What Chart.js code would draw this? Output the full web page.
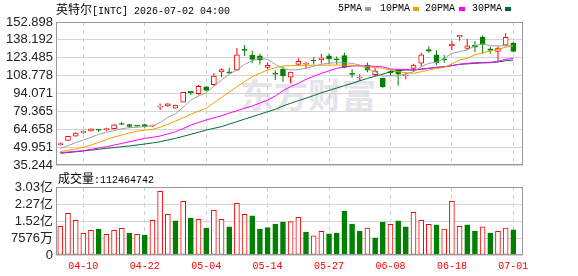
<!DOCTYPE html>
<html>
<head>
<meta charset="utf-8">
<script src="https://cdn.jsdelivr.net/npm/chart.js@4.4.1/dist/chart.umd.min.js"></script>
<style>
  body { margin: 0; background: #fff; }
  #wrap { position: relative; width: 578px; height: 276px; overflow: hidden; }
  canvas { position: absolute; left: 0; z-index: 1; }
  .txt { position: absolute; z-index: 2; font-family: "Liberation Mono", monospace; font-size: 10px; line-height: 12px; color: #000; white-space: nowrap; }
  .cjk { font-family: "Noto Sans CJK SC"; font-size: 12px; }
  .sw { position: absolute; z-index: 2; width: 6px; height: 4px; }
  #mark { position: absolute; z-index: 0; left: 240px; top: 76px; font-family: "Noto Sans CJK SC"; font-weight: bold; font-size: 34px; line-height: 36px; color: #e4e4ea; white-space: nowrap; }
</style>
</head>
<body>
<div id="wrap">
  <div id="mark">东方财富</div>
  <div class="txt" style="left:56px;top:3px"><span class="cjk">英特尔</span>[INTC] 2026-07-02 04:00</div>
  <div class="txt" style="left:338px;top:3px">5PMA</div>
  <div class="sw" style="left:365px;top:7px;background:#a0a0a0"></div>
  <div class="txt" style="left:380px;top:3px">10PMA</div>
  <div class="sw" style="left:413px;top:7px;background:#f2a000"></div>
  <div class="txt" style="left:425px;top:3px">20PMA</div>
  <div class="sw" style="left:459px;top:7px;background:#ff00ff"></div>
  <div class="txt" style="left:472px;top:3px">30PMA</div>
  <div class="sw" style="left:505px;top:7px;background:#006a33"></div>
  <div class="txt" style="left:58px;top:172px"><span class="cjk">成交量</span>:112464742</div>
  <canvas id="price" width="578" height="176" style="top:0"></canvas>
  <canvas id="vol" width="578" height="100" style="top:176px"></canvas>
</div>
<script>
const dates = ['04-07','04-08','04-09','04-10','04-13','04-14','04-15','04-16','04-17','04-20',
  '04-21','04-22','04-23','04-24','04-27','04-28','04-29','04-30','05-01','05-04',
  '05-05','05-06','05-07','05-08','05-11','05-12','05-13','05-14','05-15','05-18',
  '05-19','05-20','05-21','05-22','05-26','05-27','05-28','05-29','06-01','06-02',
  '06-03','06-04','06-05','06-08','06-09','06-10','06-11','06-12','06-15','06-16',
  '06-17','06-18','06-22','06-23','06-24','06-25','06-26','06-29','06-30','07-01'];

const opens = [52.0,55.5,59.0,62.1,63.2,64.6,64.3,65.2,69.4,68.4,
  67.6,68.4,67.2,82.8,84.0,82.0,87.0,95.8,94.0,99.6,
  101.3,111.8,112.0,113.2,130.5,125.5,125.0,115.6,110.5,114.0,
  107.6,118.0,118.3,121.4,121.8,125.0,122.6,125.3,110.6,106.8,
  117.5,109.6,106.5,111.8,113.3,108.5,114.7,119.0,130.3,125.8,
  122.6,133.2,140.6,131.2,133.7,140.5,130.8,128.6,133.8,135.5];
const highs = [54.0,59.2,62.2,63.8,65.3,64.8,65.9,69.0,70.7,69.2,
  67.8,69.2,68.4,85.8,86.3,84.8,95.3,96.2,101.0,100.0,
  111.0,114.6,115.2,131.5,134.0,129.3,126.8,119.5,113.0,116.0,
  112.0,123.0,120.2,124.0,126.6,127.0,124.5,127.8,114.0,110.0,
  119.5,115.0,106.8,114.0,114.0,111.5,118.5,127.5,133.0,129.7,
  125.8,137.0,142.1,139.0,137.0,141.8,132.6,133.0,143.6,136.5];
const lows = [51.0,55.0,58.5,61.0,62.8,62.3,63.0,64.8,68.3,65.5,
  67.0,65.9,66.3,80.5,83.0,81.8,86.8,92.8,93.0,96.0,
  100.5,107.4,110.5,112.5,125.0,119.0,117.8,114.0,105.2,103.8,
  102.5,116.8,114.6,118.0,118.5,118.4,117.8,114.8,107.0,104.5,
  111.5,108.5,98.8,108.5,100.5,105.8,112.0,116.0,127.6,117.3,
  119.4,129.7,137.5,129.8,128.0,126.8,126.8,120.8,132.8,128.0];
const closes = [52.6,58.8,61.6,62.7,65.0,64.0,64.8,68.3,68.6,66.9,
  67.2,67.0,67.8,83.5,85.5,84.5,95.1,94.6,100.0,96.6,
  108.5,113.8,110.7,125.8,129.5,122.2,121.7,117.2,109.9,108.8,
  111.6,120.5,119.2,120.8,123.3,122.5,121.8,115.6,109.8,107.6,
  113.2,112.5,99.5,111.2,110.0,109.3,117.5,125.8,129.0,119.3,
  121.8,134.8,142.0,133.3,132.2,134.5,129.5,131.4,140.3,128.7];

const ma5 = [48.9,51.1,53.6,55.8,58.0,60.5,62.1,63.5,65.1,66.0,
  66.3,66.8,67.3,70.2,74.5,77.4,82.7,88.7,92.0,94.7,
  100.0,105.2,110.0,113.5,118.0,121.0,123.3,122.0,118.0,114.5,
  113.5,113.6,114.8,116.5,118.1,119.0,119.5,119.3,118.9,117.5,
  114.5,112.0,108.3,108.6,108.6,110.1,112.0,116.1,118.9,119.7,
  123.0,127.1,128.5,129.9,133.4,134.8,133.4,133.2,133.4,133.2];
const ma10 = [46.2,47.3,48.4,49.8,51.7,53.9,56.1,58.3,59.9,61.6,
  63.0,64.0,64.6,66.3,68.7,71.4,74.0,77.0,79.5,81.9,
  86.4,90.9,95.3,99.7,103.8,107.9,110.7,113.4,115.3,116.7,
  117.0,117.2,117.3,117.3,117.3,117.4,117.5,117.4,117.3,116.7,
  116.1,115.5,114.8,113.4,112.0,111.2,110.6,112.0,113.4,114.5,
  115.6,118.4,121.6,123.0,125.8,127.6,129.0,130.4,132.1,133.2];
const ma20 = [45.4,45.9,46.5,47.0,48.1,49.2,50.3,51.6,53.0,54.4,
  55.8,57.2,58.0,59.1,60.8,62.6,65.2,68.0,70.2,72.3,
  74.0,75.8,77.9,79.9,81.9,83.8,86.2,88.7,92.0,96.4,
  99.7,102.4,105.7,108.2,110.6,112.7,114.8,115.8,116.7,116.8,
  116.7,116.4,116.0,114.2,113.9,113.9,113.4,113.9,114.8,115.6,
  116.1,117.0,118.1,118.9,119.4,119.7,119.7,120.6,122.2,123.0];
const ma30 = [44.9,45.5,46.1,46.8,47.5,48.2,48.9,49.6,50.3,50.9,
  51.7,52.5,53.4,54.4,55.8,57.2,58.8,60.5,62.2,64.0,
  65.4,66.8,68.9,70.9,73.0,75.0,77.0,79.1,81.0,83.8,
  86.0,88.2,90.2,92.4,94.7,96.6,98.6,100.5,102.4,104.5,
  106.5,108.3,110.0,112.0,112.8,113.4,113.4,114.2,114.8,115.6,
  116.1,117.0,118.1,118.4,118.9,119.2,119.4,120.0,121.0,121.6];

// volume in millions of shares
const volumes = [128,186,155,97,110,116,92,110,119,98,
  92,89,155,284,181,152,239,165,159,120,
  199,159,125,230,181,174,116,122,138,147,
  149,168,102,85,106,94,98,196,138,107,
  120,76,147,137,152,125,190,155,137,134,
  116,239,128,134,107,125,98,106,120,112.464742];

const priceTicks = ['35.244','49.951','64.658','79.365','94.071','108.778','123.485','138.192','152.898'];
const volTicks = ['0','7576万','1.52亿','2.27亿','3.03亿'];
const volMax = 303.03;

const red = '#ff0000';
const green = '#008000';
const candleUp = closes.map((c, i) => c >= opens[i]);
const volUp = closes.map((c, i) => i === 0 || c >= closes[i - 1]);

const pts = arr => arr.map((v, i) => ({ x: i, y: v }));

const frame = {
  id: 'frame',
  afterDraw(chart) {
    const { ctx, chartArea: a } = chart;
    ctx.save();
    ctx.strokeStyle = '#999';
    ctx.lineWidth = 1;
    ctx.strokeRect(a.left + 0.5, a.top + 0.5, a.right - a.left - 1, a.bottom - a.top - 1);
    ctx.restore();
  }
};

const xScale = showLabels => ({
  type: 'linear',
  offset: false,
  min: -0.56,
  max: 60.26,
  afterBuildTicks: s => {
    s.ticks = dates.map((d, i) => ({ value: i })).filter(t => (t.value - 3) % 8 === 0);
  },
  grid: { color: '#cfcfcf', drawTicks: false, offset: false },
  border: { display: false, dash: [4, 4] },
  ticks: {
    display: showLabels,
    autoSkip: false,
    maxRotation: 0,
    padding: 5,
    color: red,
    font: { family: 'Liberation Mono', size: 10 },
    callback: v => dates[v]
  },
  afterFit: s => { s.height = showLabels ? 21 : 0; }
});

const yFont = { family: "'Liberation Sans', 'Noto Sans CJK SC'", size: 13 };

const line = (data, color) => ({
  type: 'line',
  data: pts(data),
  borderColor: color,
  borderWidth: 1,
  pointRadius: 0,
  tension: 0,
  order: 0
});

new Chart(document.getElementById('price'), {
  type: 'bar',
  data: {
    datasets: [
      line(ma5, '#a0a0a0'),
      line(ma10, '#f2a000'),
      line(ma20, '#ff00ff'),
      line(ma30, '#006a33'),
      {
        data: opens.map((o, i) => ({ x: i, y: [o, closes[i]] })),
        backgroundColor: candleUp.map(u => u ? '#fff' : green),
        borderColor: candleUp.map(u => u ? red : green),
        borderWidth: 1,
        borderSkipped: false,
        barThickness: 5,
        minBarLength: 1,
        grouped: false,
        order: 1
      },
      {
        data: lows.map((l, i) => ({ x: i, y: [l, highs[i]] })),
        backgroundColor: candleUp.map(u => u ? red : green),
        barThickness: 1,
        inflateAmount: 0,
        grouped: false,
        order: 2
      }
    ]
  },
  options: {
    responsive: false,
    animation: false,
    layout: { padding: { top: 22, right: 55, bottom: 11, left: 0 } },
    plugins: { legend: { display: false }, tooltip: { enabled: false } },
    scales: {
      x: xScale(false),
      y: {
        min: 35.244,
        max: 152.898,
        afterBuildTicks: s => { s.ticks = priceTicks.map(t => ({ value: parseFloat(t) })); },
        ticks: { autoSkip: false, callback: (v, i) => priceTicks[i], padding: 3, color: '#222', font: yFont },
        grid: { color: '#d4d4d4', drawTicks: false },
        border: { display: false },
        afterFit: s => { s.width = 56; }
      }
    }
  },
  plugins: [frame]
});

new Chart(document.getElementById('vol'), {
  type: 'bar',
  data: {
    datasets: [{
      data: pts(volumes),
      backgroundColor: volUp.map(u => u ? '#fff' : green),
      borderColor: volUp.map(u => u ? red : green),
      borderWidth: 1,
      borderSkipped: false,
      barThickness: 5
    }]
  },
  options: {
    responsive: false,
    animation: false,
    layout: { padding: { top: 11, right: 55, bottom: 0, left: 0 } },
    plugins: { legend: { display: false }, tooltip: { enabled: false } },
    scales: {
      x: xScale(true),
      y: {
        min: 0,
        max: volMax,
        afterBuildTicks: s => { s.ticks = volTicks.map((t, i) => ({ value: i * volMax / 4 })); },
        ticks: { autoSkip: false, callback: (v, i) => volTicks[i], padding: 3, color: '#222', font: yFont },
        grid: { color: '#d4d4d4', drawTicks: false },
        border: { display: false },
        afterFit: s => { s.width = 56; }
      }
    }
  },
  plugins: [frame]
});
</script>
</body>
</html>
